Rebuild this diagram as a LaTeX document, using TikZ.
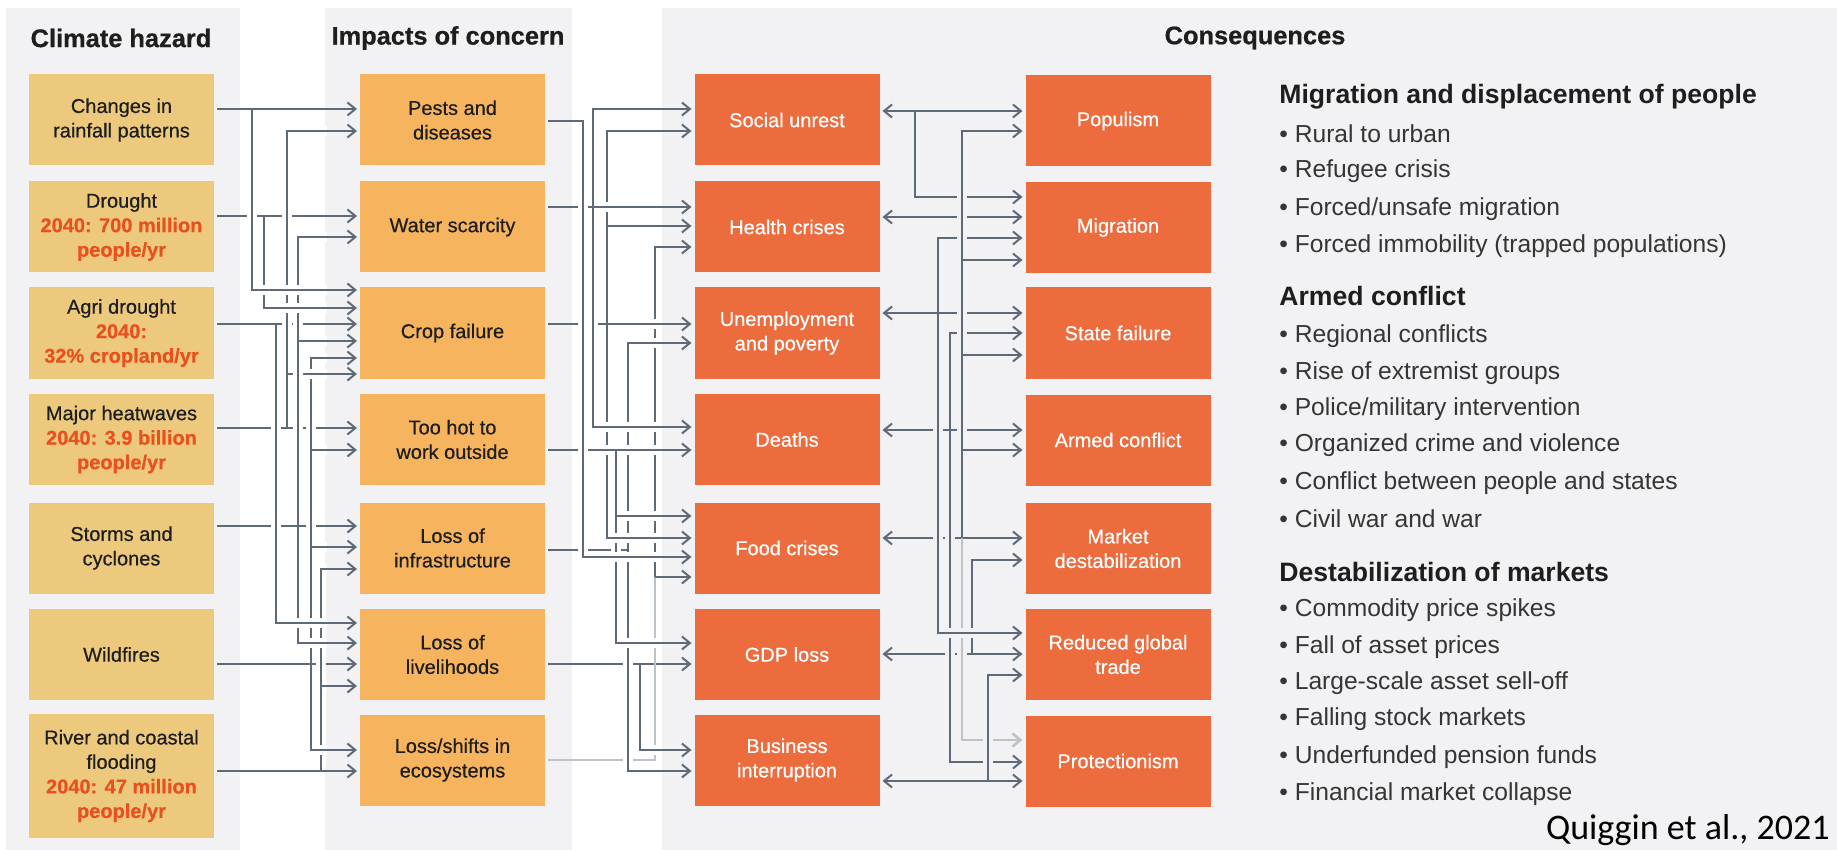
\documentclass[tikz,border=0pt]{standalone}
\usepackage{fontspec}
\setmainfont{Liberation Sans}
\newfontfamily\boxfont{Liberation Sans}[FakeBold=0.5]
\newfontfamily\titlefont{Liberation Sans}[FakeBold=0.6]
\newfontfamily\citefont{Carlito}
\usetikzlibrary{arrows.meta}
\definecolor{panelc}{HTML}{F2F2F4}
\definecolor{hazfill}{HTML}{ECC97C}
\definecolor{impfill}{HTML}{F6B45F}
\definecolor{confill}{HTML}{EC6C3E}
\definecolor{redtx}{HTML}{E8501F}
\definecolor{wirec}{HTML}{5E6A78}
\definecolor{wirelt}{HTML}{BDC3CA}
\definecolor{inkc}{HTML}{1E1E1E}
\tikzset{>={Straight Barb[length=4pt,width=6.5pt]}}
\tikzset{
  box/.style={minimum width=92.5pt, minimum height=45.5pt, inner sep=2pt, outer sep=1.5pt,
    align=center, font=\boxfont\fontsize{10}{12.25}\selectfont},
  hazbox/.style={box, fill=hazfill, text=inkc},
  impbox/.style={box, fill=impfill, text=inkc},
  conbox/.style={box, fill=confill, text=white},
  title/.style={font=\titlefont\fontsize{12.7}{15}\selectfont\bfseries, text=inkc},
  head/.style={anchor=west, inner sep=0pt, font=\fontsize{13.3}{16}\selectfont\bfseries, text=inkc},
  item/.style={anchor=west, inner sep=0pt, font=\fontsize{12.3}{15}\selectfont, text=inkc!90},
  wire/.style={draw=wirec, line width=1pt},
  wirel/.style={draw=wirelt, line width=1.3pt},
  hop/.style n args={3}{preaction={draw=#1, line width=5pt, arrows=-, shorten <=#2, shorten >=#3}},
  jw/.style={hop={white}{2.5pt}{15pt}},
  sw/.style={hop={white}{13pt}{2.5pt}},
  bw/.style={hop={white}{13pt}{15pt}},
  rw/.style={hop={panelc}{2.5pt}{2.5pt}},
}
\newcommand{\stat}{\color{redtx}\bfseries}
\newcommand{\bul}{\textbullet\ }

\begin{document}
\begin{tikzpicture}[x=0.5pt, y=-0.5pt]

\useasboundingbox (0,0) rectangle (1837,850);
\fill[white] (0,0) rectangle (1837,850);

\fill[panelc] (6,8) rectangle (240,850);
\fill[panelc] (325,8) rectangle (572,850);
\fill[panelc] (662,8) rectangle (1837,850);

\node[title] (t1) at (121,38) {Climate hazard};
\node[title] (t2) at (448,38) {Impacts of concern};
\node[title] (t3) at (1255,38) {Consequences};

\node[hazbox] (hz1) at (121.5,120) {Changes in\\rainfall patterns};
\node[hazbox] (hz2) at (121.5,227) {Drought\\{\stat 2040: 700 million}\\{\stat people/yr}};
\node[hazbox] (hz3) at (121.5,333) {Agri drought\\{\stat 2040:}\\{\stat 32\% cropland/yr}};
\node[hazbox] (hz4) at (121.5,439.5) {Major heatwaves\\{\stat 2040: 3.9 billion}\\{\stat people/yr}};
\node[hazbox] (hz5) at (121.5,548) {Storms and\\cyclones};
\node[hazbox] (hz6) at (121.5,654.5) {Wildfires};
\node[hazbox, minimum height=62pt] (hz7) at (121.5,776) {River and coastal\\flooding\\{\stat 2040: 47 million}\\{\stat people/yr}};

\node[impbox] (ip1) at (452.5,120) {Pests and\\diseases};
\node[impbox] (ip2) at (452.5,227) {Water scarcity};
\node[impbox] (ip3) at (452.5,333) {Crop failure};
\node[impbox] (ip4) at (452.5,439.5) {Too hot to\\work outside};
\node[impbox] (ip5) at (452.5,548) {Loss of\\infrastructure};
\node[impbox] (ip6) at (452.5,654.5) {Loss of\\livelihoods};
\node[impbox] (ip7) at (452.5,760) {Loss/shifts in\\ecosystems};

\node[conbox] (ca1) at (787,120) {Social unrest};
\node[conbox] (ca2) at (787,227) {Health crises};
\node[conbox] (ca3) at (787,333) {Unemployment\\and poverty};
\node[conbox] (ca4) at (787,439.5) {Deaths};
\node[conbox] (ca5) at (787,548) {Food crises};
\node[conbox] (ca6) at (787,654.5) {GDP loss};
\node[conbox] (ca7) at (787,760) {Business\\interruption};

\node[conbox] (cb1) at (1118,121) {Populism};
\node[conbox] (cb2) at (1118,227.5) {Migration};
\node[conbox] (cb3) at (1118,333) {State failure};
\node[conbox] (cb4) at (1118,440) {Armed conflict};
\node[conbox] (cb5) at (1118,548.5) {Market\\destabilization};
\node[conbox] (cb6) at (1118,654.5) {Reduced global\\trade};
\node[conbox] (cb7) at (1118,761) {Protectionism};

\draw[wire, ->] (hz1.east |- 0,109) -- (ip1.west |- 0,109);
\draw[wire, ->] (hz2.east |- 0,216) -- (ip2.west |- 0,216);
\draw[wire, ->] (hz3.east |- 0,324) -- (ip3.west |- 0,324);
\draw[wire, ->] (hz4.east |- 0,428) -- (ip4.west |- 0,428);
\draw[wire, ->] (hz5.east |- 0,526) -- (ip5.west |- 0,526);
\draw[wire, ->] (hz6.east |- 0,664) -- (ip6.west |- 0,664);
\draw[wire, ->] (hz7.east |- 0,771) -- (ip7.west |- 0,771);

\draw[wire, ->, jw] (321,771) -- (321,569) -- (ip5.west |- 0,569);
\draw[wire, ->, jw] (321,686) -- (ip6.west |- 0,686);
\draw[wire, ->, jw] (311,664) -- (311,358) -- (ip3.west |- 0,358);
\draw[wire, ->, jw] (311,664) -- (311,750) -- (ip7.west |- 0,750);
\draw[wire, ->, jw] (311,450) -- (ip4.west |- 0,450);
\draw[wire, ->, jw] (311,547) -- (ip5.west |- 0,547);
\draw[wire, ->, jw] (287,428) -- (287,131) -- (ip1.west |- 0,131);
\draw[wire, ->, jw] (287,374) -- (ip3.west |- 0,374);
\draw[wire, ->, jw] (298,526) -- (298,237) -- (ip2.west |- 0,237);
\draw[wire, ->, jw] (298,526) -- (298,643) -- (ip6.west |- 0,643);
\draw[wire, ->, jw] (298,341) -- (ip3.west |- 0,341);
\draw[wire, ->, jw] (276,324) -- (276,623) -- (ip6.west |- 0,623);
\draw[wire, ->, jw] (264,216) -- (264,308) -- (ip3.west |- 0,308);
\draw[wire, ->, jw] (252,109) -- (252,290) -- (ip3.west |- 0,290);

\draw[wire, ->] (ip6.east |- 0,664) -- (ca6.west |- 0,664);
\draw[wirel] (ip7.east |- 0,760) -- (655,760) -- (655,577);
\draw[wire, ->, jw] (655,577) -- (655,247) -- (ca2.west |- 0,247);
\draw[wire, ->, jw] (655,577) -- (ca5.west |- 0,577);
\draw[wire, ->, jw] (640,664) -- (640,750) -- (ca7.west |- 0,750);
\draw[wire, sw] (ip5.east |- 0,550) -- (628,550);
\draw[wire, ->, jw] (628,550) -- (628,343) -- (ca3.west |- 0,343);
\draw[wire, ->, jw] (628,550) -- (628,771) -- (ca7.west |- 0,771);
\draw[wire, ->, jw] (616,450) -- (616,643) -- (ca6.west |- 0,643);
\draw[wire, ->, jw] (616,516) -- (ca5.west |- 0,516);
\draw[wire, ->, jw] (607,324) -- (607,131) -- (ca1.west |- 0,131);
\draw[wire, ->, jw] (607,226) -- (ca2.west |- 0,226);
\draw[wire, ->, jw] (607,324) -- (607,538) -- (ca5.west |- 0,538);
\draw[wire, ->, bw] (ip2.east |- 0,207) -- (ca2.west |- 0,207);
\draw[wire, sw] (ip3.east |- 0,324) -- (607,324);
\draw[wire, ->, jw] (607,324) -- (ca3.west |- 0,324);
\draw[wire, sw] (ip4.east |- 0,450) -- (616,450);
\draw[wire, ->, jw] (616,450) -- (ca4.west |- 0,450);
\draw[wire, ->, jw] (593,207) -- (593,109) -- (ca1.west |- 0,109);
\draw[wire, ->, jw] (593,207) -- (593,427) -- (ca4.west |- 0,427);
\draw[wire, ->, bw] (ip1.east |- 0,121) -- (583,121) -- (583,557) -- (ca5.west |- 0,557);

\draw[wire, <->] (ca1.east |- 0,111) -- (cb1.west |- 0,111);
\draw[wire, <->] (ca2.east |- 0,217) -- (cb2.west |- 0,217);
\draw[wire, <->] (ca3.east |- 0,313) -- (cb3.west |- 0,313);
\draw[wire, <->] (ca4.east |- 0,430) -- (cb4.west |- 0,430);
\draw[wire, <->] (ca5.east |- 0,538) -- (cb5.west |- 0,538);
\draw[wire, <->] (ca6.east |- 0,654) -- (cb6.west |- 0,654);
\draw[wire, <->] (ca7.east |- 0,781) -- (cb7.west |- 0,781);

\draw[wire, ->, rw] (938,313) -- (938,238) -- (cb2.west |- 0,238);
\draw[wire, ->, rw] (915,111) -- (915,197) -- (cb2.west |- 0,197);
\draw[wire, ->, rw] (950,430) -- (950,333) -- (cb3.west |- 0,333);
\draw[wire, ->, rw] (950,430) -- (950,762) -- (cb7.west |- 0,762);
\draw[wire, ->, rw] (972,654) -- (972,560) -- (cb5.west |- 0,560);
\draw[wire, ->, rw] (962,538) -- (962,131) -- (cb1.west |- 0,131);
\draw[wire, ->, rw] (962,260) -- (cb2.west |- 0,260);
\draw[wire, ->, rw] (962,355) -- (cb3.west |- 0,355);
\draw[wire, ->, rw] (962,450) -- (cb4.west |- 0,450);
\draw[wirel, ->, rw] (962,538) -- (962,740) -- (cb7.west |- 0,740);
\draw[wire, ->, rw] (938,313) -- (938,633) -- (cb6.west |- 0,633);
\draw[wire, ->, rw] (988,781) -- (988,675) -- (cb6.west |- 0,675);

\node[head] (mh) at (1279,97) {Migration and displacement of people};
\node[item] (m1) at (1279,134) {\bul Rural to urban};
\node[item] (m2) at (1279,171) {\bul Refugee crisis};
\node[item] (m3) at (1279,209) {\bul Forced/unsafe migration};
\node[item] (m4) at (1279,246) {\bul Forced immobility (trapped populations)};
\node[head] (ah) at (1279,296) {Armed conflict};
\node[item] (a1) at (1279,336) {\bul Regional conflicts};
\node[item] (a2) at (1279,373) {\bul Rise of extremist groups};
\node[item] (a3) at (1279,409) {\bul Police/military intervention};
\node[item] (a4) at (1279,445) {\bul Organized crime and violence};
\node[item] (a5) at (1279,483) {\bul Conflict between people and states};
\node[item] (a6) at (1279,519) {\bul Civil war and war};
\node[head] (dh) at (1279,572) {Destabilization of markets};
\node[item] (d1) at (1279,610) {\bul Commodity price spikes};
\node[item] (d2) at (1279,647) {\bul Fall of asset prices};
\node[item] (d3) at (1279,683) {\bul Large-scale asset sell-off};
\node[item] (d4) at (1279,719) {\bul Falling stock markets};
\node[item] (d5) at (1279,757) {\bul Underfunded pension funds};
\node[item] (d6) at (1279,794) {\bul Financial market collapse};

\node[anchor=base east, inner sep=0pt, font=\citefont\fontsize{18}{20}\selectfont] (cite) at (1830,839) {Quiggin et al., 2021};

\end{tikzpicture}
\end{document}
